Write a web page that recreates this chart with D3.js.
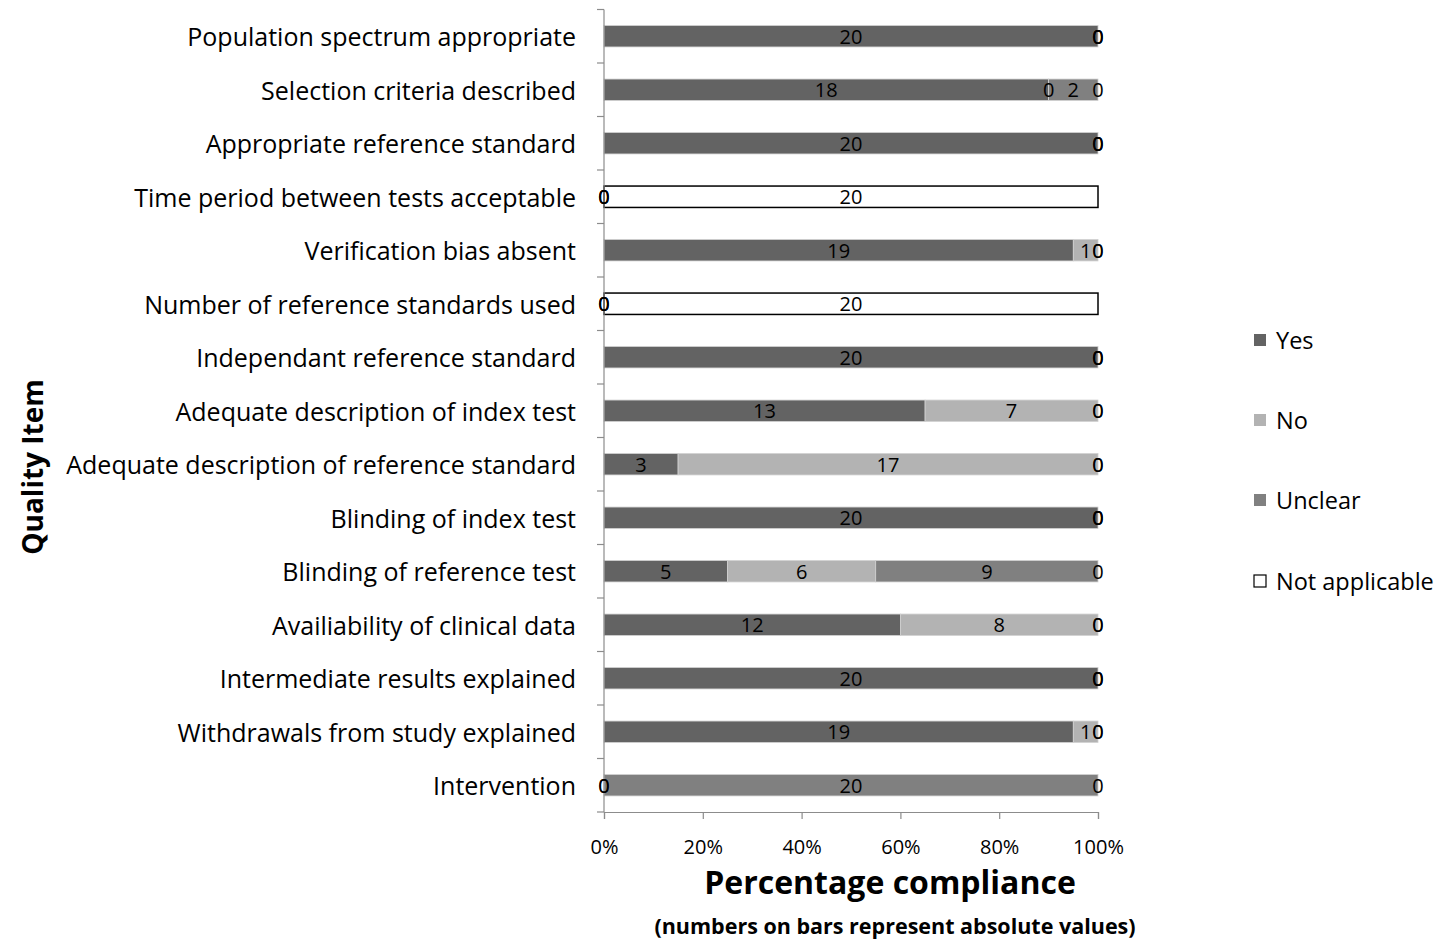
<!DOCTYPE html>
<html>
<head>
<meta charset="utf-8">
<script src="https://cdn.jsdelivr.net/npm/d3@7"></script>
<style>
  html, body { margin: 0; padding: 0; background: #fff; }
  svg { display: block; font-family: "Open Sans", "DejaVu Sans", sans-serif; }
</style>
</head>
<body>
<svg id="chart" width="1438" height="939"></svg>
<script>
// Quality items, top to bottom
const categories = [
  "Population spectrum appropriate",
  "Selection criteria described",
  "Appropriate reference standard",
  "Time period between tests acceptable",
  "Verification bias absent",
  "Number of reference standards used",
  "Independant reference standard",
  "Adequate description of index test",
  "Adequate description of reference standard",
  "Blinding of index test",
  "Blinding of reference test",
  "Availiability of clinical data",
  "Intermediate results explained",
  "Withdrawals from study explained",
  "Intervention"
];

// Number of studies per answer
const yesValues     = [20, 18, 20, 0, 19, 0, 20, 13, 3, 20, 5, 12, 20, 19, 0];
const noValues      = [0, 0, 0, 0, 1, 0, 0, 7, 17, 0, 6, 8, 0, 1, 0];
const unclearValues = [0, 2, 0, 0, 0, 0, 0, 0, 0, 0, 9, 0, 0, 0, 20];
const naValues      = [0, 0, 0, 20, 0, 20, 0, 0, 0, 0, 0, 0, 0, 0, 0];

const seriesNames = ["Yes", "No", "Unclear", "Not applicable"];
const seriesFill = ["#636363", "#b3b3b3", "#808080", "#ffffff"];
const tickValues = [0, 0.2, 0.4, 0.6, 0.8, 1];

const svg = d3.select("#chart");

const x = d3.scaleLinear().domain([0, 1]).range([604, 1098]);
const y = d3.scaleBand().domain(categories).range([9.5, 812])
  .paddingInner(0.6).paddingOuter(0.3);

const seriesValues = [yesValues, noValues, unclearValues, naValues];

// Rows as stacked shares of each item's total
const rows = categories.map((c, i) => {
  const counts = seriesValues.map(s => s[i]);
  const total = d3.sum(counts);
  let acc = 0;
  return counts.map((v, k) => {
    const s = { cat: c, k, v, x0: acc / total, x1: (acc + v) / total };
    acc += v;
    return s;
  });
});
const segs = rows.flat();

// Bars
svg.append("g").selectAll("rect")
  .data(segs.filter(d => d.v > 0))
  .join("rect")
  .attr("x", d => x(d.x0))
  .attr("y", d => y(d.cat))
  .attr("width", d => x(d.x1) - x(d.x0))
  .attr("height", y.bandwidth())
  .attr("fill", d => seriesFill[d.k])
  .attr("stroke", d => d.k === 3 ? "#000" : "#d0d0d0")
  .attr("stroke-width", d => d.k === 3 ? 1.5 : 0.8);

// Axes
const axisColor = "#8c8c8c";
const axG = svg.append("g");
axG.append("line")
  .attr("x1", x(0)).attr("x2", x(0))
  .attr("y1", y.range()[0]).attr("y2", y.range()[1])
  .attr("stroke", axisColor).attr("stroke-width", 1.2);
const step = y.step();
d3.range(categories.length + 1).forEach(i => {
  const yy = y.range()[0] + i * step;
  axG.append("line")
    .attr("x1", x(0) - 7).attr("x2", x(0))
    .attr("y1", yy).attr("y2", yy)
    .attr("stroke", axisColor).attr("stroke-width", 1.2);
});

const xAxis = d3.axisBottom(x)
  .tickValues(tickValues)
  .tickFormat(d3.format(".0%"))
  .tickSize(7);
const xg = svg.append("g")
  .attr("transform", `translate(0,${y.range()[1]})`)
  .call(xAxis);
xg.select(".domain").attr("stroke", axisColor).attr("stroke-width", 1.2);
xg.selectAll(".tick line").attr("stroke", axisColor).attr("stroke-width", 1.2);
xg.selectAll(".tick text")
  .attr("y", 34)
  .attr("dy", null)
  .attr("dominant-baseline", "central")
  .attr("font-size", 20)
  .attr("fill", "#000")
  .attr("font-family", "Open Sans, sans-serif");

// Category labels
svg.append("g").selectAll("text")
  .data(categories)
  .join("text")
  .attr("x", x(0) - 28)
  .attr("y", d => y(d) + y.bandwidth() / 2)
  .attr("text-anchor", "end")
  .attr("dominant-baseline", "central")
  .attr("font-size", 25)
  .attr("fill", "#000")
  .text(d => d);

// Value labels on bars (zeros sit at the segment edge)
svg.append("g").selectAll("text")
  .data(segs)
  .join("text")
  .attr("x", d => x((d.x0 + d.x1) / 2))
  .attr("y", d => y(d.cat) + y.bandwidth() / 2)
  .attr("text-anchor", "middle")
  .attr("dominant-baseline", "central")
  .attr("font-size", 20)
  .attr("fill", "#000")
  .text(d => d.v);

// Axis titles
svg.append("text")
  .attr("x", 890).attr("y", 881)
  .attr("text-anchor", "middle")
  .attr("dominant-baseline", "central")
  .attr("font-size", 32).attr("font-weight", "bold")
  .text("Percentage compliance");
svg.append("text")
  .attr("x", 895).attr("y", 925)
  .attr("text-anchor", "middle")
  .attr("dominant-baseline", "central")
  .attr("font-size", 21.5).attr("font-weight", "bold")
  .text("(numbers on bars represent absolute values)");
svg.append("text")
  .attr("transform", "translate(32,467) rotate(-90)")
  .attr("text-anchor", "middle")
  .attr("dominant-baseline", "central")
  .attr("font-size", 28).attr("font-weight", "bold")
  .text("Quality Item");

// Legend
const legendY = [340, 420, 500, 581];
const lg = svg.append("g").selectAll("g")
  .data(seriesNames)
  .join("g")
  .attr("transform", (d, i) => `translate(1254,${legendY[i]})`);
lg.append("rect")
  .attr("x", 0).attr("y", -6)
  .attr("width", 12).attr("height", 12)
  .attr("fill", (d, i) => seriesFill[i])
  .attr("stroke", (d, i) => i === 3 ? "#000" : "none")
  .attr("stroke-width", 1.2);
lg.append("text")
  .attr("x", 22).attr("y", 0)
  .attr("dominant-baseline", "central")
  .attr("font-size", 23.5)
  .text(d => d);
</script>
</body>
</html>
